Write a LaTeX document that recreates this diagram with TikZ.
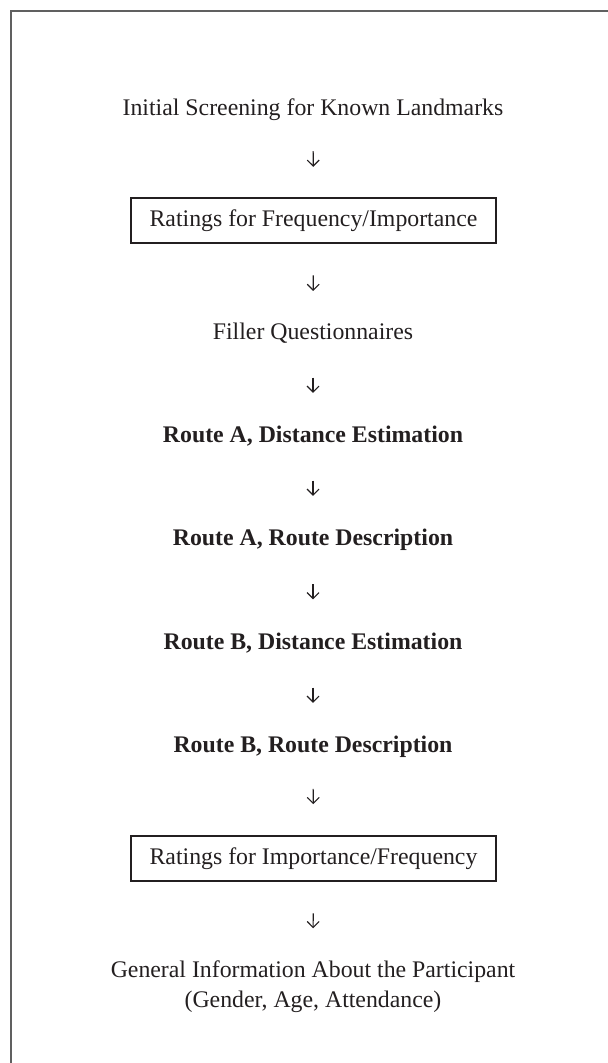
\documentclass[tikz,border=0pt]{standalone}
\usepackage{fontspec}
\setmainfont{Liberation Serif}
\usetikzlibrary{arrows.meta}
\definecolor{ink}{HTML}{231F20}
\definecolor{framegray}{HTML}{606060}
\begin{document}
\begin{tikzpicture}[x=1pt,y=1pt,
  every node/.style={font=\fontsize{11.9}{15}\selectfont, text=ink},
  stage/.style={inner sep=0pt, text height=8pt, text depth=2.5pt, anchor=base},
  boldstage/.style={stage, font=\fontsize{11.9}{15}\selectfont\bfseries},
  multistage/.style={inner sep=0pt, anchor=base, align=center},
  ratingbox/.style={draw=ink, line width=0.6pt, minimum width=182.5pt, minimum height=22.5pt, inner sep=0pt},
  flow/.style={draw=ink, line width=0.55pt, -{Straight Barb[length=3pt,width=6pt]}, shorten <=#1, shorten >=#1},
  frameline/.style={draw=framegray, line width=1pt}]
\useasboundingbox (0,0) rectangle (304,-531.5);
\draw[frameline] (5.5,-531.5) -- (5.5,-5.5) -- (304,-5.5);
\node[stage] (init) at (156.5,-57.6) {Initial Screening for Known Landmarks};
\node[ratingbox] (rate1) at (156.75,-110.25) {Ratings for Frequency/Importance};
\node[stage] (filler) at (156.5,-169.6) {Filler Questionnaires};
\node[boldstage] (rade) at (156.5,-221.1) {Route A, Distance Estimation};
\node[boldstage] (rard) at (156.5,-272.6) {Route A, Route Description};
\node[boldstage] (rbde) at (156.5,-324.6) {Route B, Distance Estimation};
\node[boldstage] (rbrd) at (156.5,-376.1) {Route B, Route Description};
\node[ratingbox] (rate2) at (156.75,-429.25) {Ratings for Importance/Frequency};
\node[multistage] (general) at (156.5,-503.6) {General Information About the Participant\\(Gender, Age, Attendance)};
\draw[flow=15.3pt] (init) -- (rate1);
\draw[flow=15.9pt] (rate1) -- (filler);
\draw[flow=16.5pt] (filler) -- (rade);
\draw[flow=16.5pt] (rade) -- (rard);
\draw[flow=16.75pt] (rard) -- (rbde);
\draw[flow=16.5pt] (rbde) -- (rbrd);
\draw[flow=15.6pt] (rbrd) -- (rate2);
\draw[flow=15.9pt] (rate2) -- (general.north);
\end{tikzpicture}
\end{document}
